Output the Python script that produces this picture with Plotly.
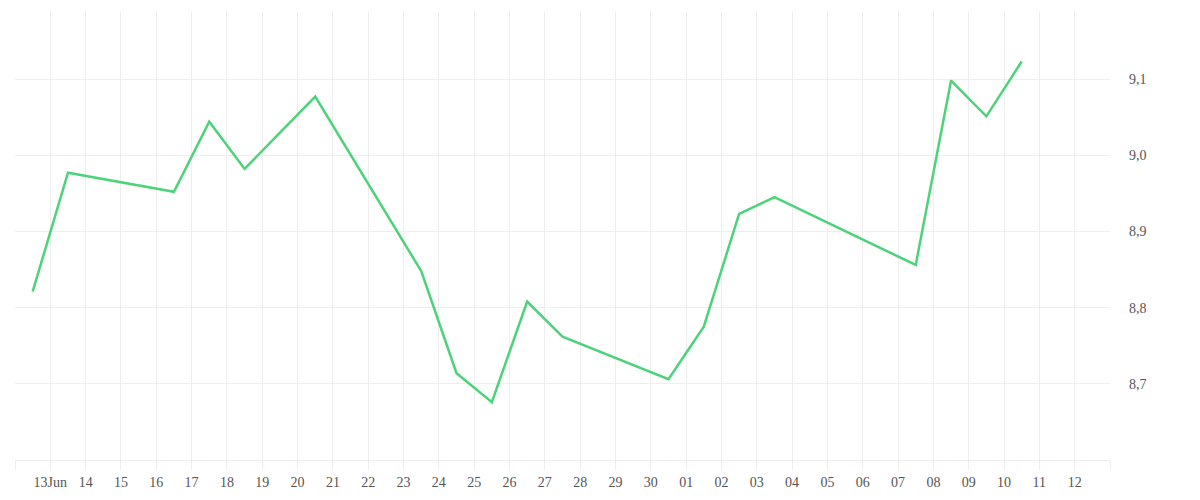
import plotly.graph_objects as go
import pandas as pd

dates = ["2025-06-12", "2025-06-13", "2025-06-16", "2025-06-17", "2025-06-18",
         "2025-06-20", "2025-06-23", "2025-06-24", "2025-06-25", "2025-06-26",
         "2025-06-27", "2025-06-30", "2025-07-01", "2025-07-02", "2025-07-03",
         "2025-07-07", "2025-07-08", "2025-07-09", "2025-07-10"]
values = [8.821, 8.977, 8.952, 9.044, 8.982,
          9.077, 8.848, 8.714, 8.676, 8.808,
          8.762, 8.706, 8.775, 8.923, 8.945,
          8.856, 9.098, 9.051, 9.123]

y_ticks = [8.7, 8.8, 8.9, 9.0, 9.1]

x_pos = [pd.Timestamp(d) + pd.Timedelta(hours=12) for d in dates]

tick_days = pd.date_range("2025-06-12", "2025-07-13", freq="D")
tick_text = []
for d in tick_days:
    if d == tick_days[0] or d == tick_days[-1]:
        tick_text.append("")
    elif d.day == 13 and d.month == 6:
        tick_text.append("13Jun")
    else:
        tick_text.append(d.strftime("%d"))

font = dict(family="Liberation Serif, Times New Roman, serif", size=14, color="#555555")

fig = go.Figure()
fig.add_trace(go.Scatter(
    x=x_pos, y=values, mode="lines",
    line=dict(color="#4cd37a", width=2.5),
    hoverinfo="x+y", showlegend=False,
))

fig.update_layout(
    width=1200, height=500,
    margin=dict(l=7, r=98, t=4, b=48),
    paper_bgcolor="white", plot_bgcolor="white",
    separators=",.",
    font=font,
    xaxis=dict(
        range=[tick_days[0], tick_days[-1]],
        tickmode="array", tickvals=list(tick_days), ticktext=tick_text,
        showgrid=True, gridcolor="#eeeeee", gridwidth=1,
        ticks="outside", ticklen=9, tickcolor="#eeeeee",
        showline=True, linecolor="#eeeeee", linewidth=1,
        zeroline=False, tickfont=font, tickangle=0,
    ),
    yaxis=dict(
        side="right", range=[8.6, 9.188],
        tickmode="array", tickvals=y_ticks, tickformat=".1f",
        showgrid=True, gridcolor="#eeeeee", gridwidth=1,
        ticks="", ticklabelstandoff=18,
        showline=False, zeroline=False, tickfont=font,
    ),
)

fig.write_html("out.html")
